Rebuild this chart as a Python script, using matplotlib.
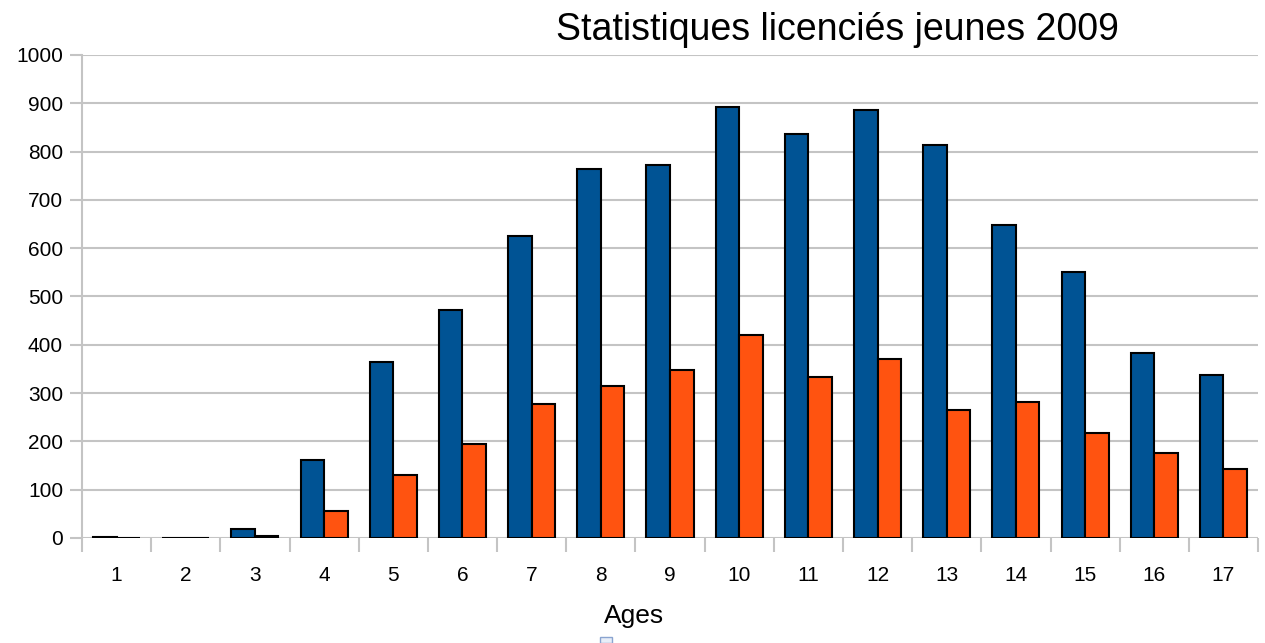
import numpy as np
import matplotlib.pyplot as plt
from matplotlib.ticker import FixedLocator
from matplotlib.patches import Rectangle

# =========================
# DATA
# =========================
ages = list(range(1, 18))
serie_bleue = [2, 0, 18, 162, 365, 473, 625, 763, 772, 892, 836, 887, 814, 648, 550, 384, 338]
serie_orange = [1, 1, 5, 56, 130, 195, 278, 315, 347, 420, 333, 370, 264, 282, 218, 176, 143]
y_ticks = list(range(0, 1001, 100))

# =========================
# FIGURE
# =========================
fig = plt.figure(figsize=(12.65, 6.43), dpi=100)
ax = fig.add_axes([0.0648, 0.1633, 0.9297, 0.7512])

x = np.arange(len(ages))
w = 0.34
ax.bar(x - w / 2, serie_bleue, w, color='#005394', edgecolor='black', linewidth=1.5, zorder=3)
ax.bar(x + w / 2, serie_orange, w, color='#ff5310', edgecolor='black', linewidth=1.5, zorder=3)

ax.set_xlim(-0.5, len(ages) - 0.5)
ax.set_ylim(0, 1000)
ax.set_yticks(y_ticks)
ax.set_xticks(x)
ax.set_xticklabels([str(a) for a in ages])
ax.xaxis.set_minor_locator(FixedLocator(np.arange(-0.5, len(ages), 1.0)))

ax.grid(axis='y', color='#c4c4c4', linewidth=1.5, zorder=0)
ax.tick_params(axis='x', which='major', length=0, pad=20, labelsize=15)
ax.tick_params(axis='x', which='minor', length=10, width=1.5, color='#c4c4c4', direction='out')
ax.tick_params(axis='y', length=8.6, width=1.5, color='#c4c4c4', labelsize=15, pad=5)

for s in ['top', 'right', 'bottom']:
    ax.spines[s].set_visible(False)
ax.spines['left'].set_color('#c4c4c4')
ax.spines['left'].set_linewidth(1.5)

fig.text(837 / 1265, 1 - 30 / 643, 'Statistiques licenciés jeunes 2009',
         ha='center', va='center', fontsize=27, family='Liberation Sans')
fig.text(634 / 1265, 1 - 616 / 643, 'Ages', ha='center', va='center', fontsize=19,
         family='Liberation Sans')

# petit reste de légende en bas
fig.patches.append(Rectangle((600 / 1265, 0), 12 / 1265, 6 / 643, transform=fig.transFigure,
                             facecolor='#e8eef8', edgecolor='#8aa4d0', linewidth=1))

for lab in ax.get_xticklabels() + ax.get_yticklabels():
    lab.set_family('Liberation Sans')

fig.savefig('out.png', dpi=100)
